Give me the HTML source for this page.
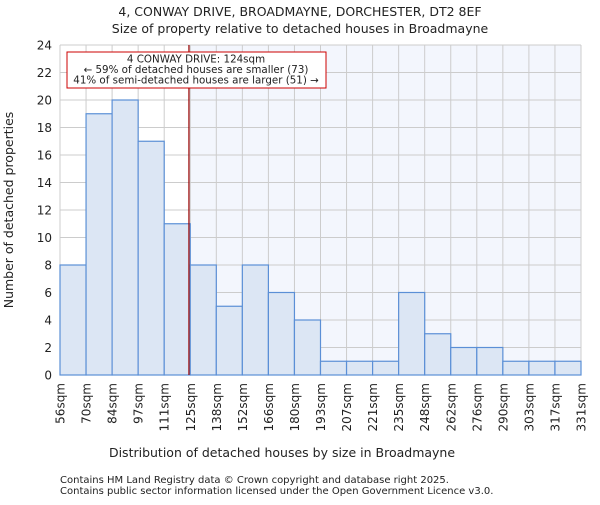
<!DOCTYPE html>
<html><head><meta charset="utf-8"><style>
body{margin:0;background:#fff;}
svg text{font-family:"DejaVu Sans","Liberation Sans",sans-serif;fill:#222;}
</style></head><body>
<svg width="600" height="500" xmlns="http://www.w3.org/2000/svg">
<text x="300" y="16" text-anchor="middle" font-size="12.5">4, CONWAY DRIVE, BROADMAYNE, DORCHESTER, DT2 8EF</text>
<text x="300" y="33" text-anchor="middle" font-size="12.5">Size of property relative to detached houses in Broadmayne</text>
<g id="plot"></g>
<text x="282" y="457" text-anchor="middle" font-size="12.5">Distribution of detached houses by size in Broadmayne</text>
<text transform="translate(13,210) rotate(-90)" text-anchor="middle" font-size="12.5">Number of detached properties</text>
<text x="60" y="483" font-size="10" fill="#444">Contains HM Land Registry data © Crown copyright and database right 2025.</text>
<text x="60" y="494" font-size="10" fill="#444">Contains public sector information licensed under the Open Government Licence v3.0.</text>
</svg>
<script>
const binLabels=["56sqm","70sqm","84sqm","97sqm","111sqm","125sqm","138sqm","152sqm","166sqm","180sqm","193sqm","207sqm","221sqm","235sqm","248sqm","262sqm","276sqm","290sqm","303sqm","317sqm","331sqm"];
const counts=[8,19,20,17,11,8,5,8,6,4,1,1,1,6,3,2,2,1,1,1];
const yTicks=[0,2,4,6,8,10,12,14,16,18,20,22,24];
const propertyBinPos=4.95;
const NS="http://www.w3.org/2000/svg";
const g=document.getElementById('plot');
const L=60,R=581,T=45,B=375,yMax=24;
const n=counts.length,bw=(R-L)/n;
const xs=i=>L+i*bw, ys=v=>B-(v/yMax)*(B-T);
function mk(t,a){const e=document.createElementNS(NS,t);for(const k in a)e.setAttribute(k,a[k]);g.appendChild(e);return e;}
const px=xs(propertyBinPos);
let e=mk('rect',{x:px,y:T,width:R-px,height:B-T,fill:'#f3f6fd'});


yTicks.forEach(v=>{const l=mk('line',{x1:L,x2:R,y1:ys(v),y2:ys(v),stroke:'#ccc'});


const t=mk('text',{x:L-8,y:ys(v)+4.5,'text-anchor':'end','font-size':12});t.textContent=v;

});
binLabels.forEach((s,i)=>{const x=xs(i);const l=mk('line',{x1:x,x2:x,y1:T,y2:B,stroke:'#ccc'});


const t=mk('text',{transform:`translate(${x+4.5},383) rotate(-90)`,'text-anchor':'end','font-size':12});t.textContent=s;

});
counts.forEach((v,i)=>{const r=mk('rect',{x:xs(i),y:ys(v),width:bw,height:B-ys(v),fill:'#dce6f4',stroke:'#5b8fd6','stroke-width':1.2});

});
e=mk('line',{x1:px,x2:px,y1:T,y2:B,stroke:'#990000','stroke-width':1.2});


e=mk('rect',{x:67,y:52,width:259,height:36,fill:'#fff',stroke:'#c00','stroke-width':1});


["4 CONWAY DRIVE: 124sqm","← 59% of detached houses are smaller (73)","41% of semi-detached houses are larger (51) →"].forEach((s,i)=>{
const t=mk('text',{x:196,y:62.5+i*10.5,'text-anchor':'middle','font-size':10.3});t.textContent=s;

});
</script>
</body></html>
